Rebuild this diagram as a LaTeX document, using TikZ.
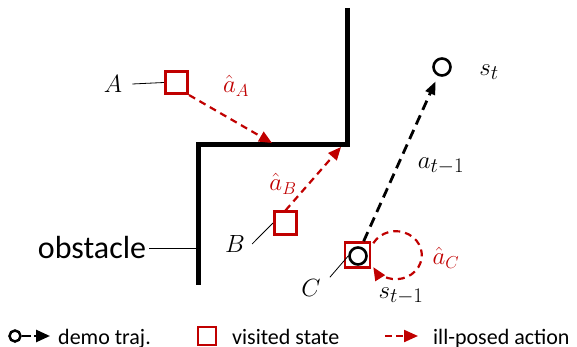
\documentclass[tikz,border=0pt]{standalone}
\usepackage{amsmath}
\usepackage{fontspec}
\setmainfont{Carlito}
\usetikzlibrary{arrows.meta, positioning, calc}
\definecolor{illred}{RGB}{192,0,0}

\begin{document}
\begin{tikzpicture}[x=1pt, y=-1pt,
        wall/.style={line width=5pt, line join=miter},
        visited/.style={rectangle, draw=illred, line width=2.6pt, minimum size=22.5pt, inner sep=0pt},
        demo/.style={circle, draw, line width=2.6pt, minimum size=17pt, inner sep=0pt},
        lab/.style={font=\fontsize{32}{36}\selectfont, inner sep=0pt},
        redlab/.style={font=\fontsize{26}{30}\selectfont, text=illred, inner sep=0pt},
        legtext/.style={font=\fontsize{22}{26}\selectfont, inner sep=0pt, anchor=base west},
        leader/.style={draw, line width=0.8pt},
        line/.style={draw, line width=2.8pt, dash pattern=on 10pt off 6pt, -{Triangle[length=13pt, width=10pt]}},
        ill/.style={draw=illred, line width=2.2pt, dash pattern=on 7pt off 5pt, -{Triangle[length=13pt, width=11pt]}}]

        \useasboundingbox (0,0) rectangle (577,347);

        % Obstacle
        \coordinate (w1) at (347,8);
        \coordinate (w2) at (347,145);
        \coordinate (w3) at (198.5,145);
        \coordinate (w4) at (198.5,285);
        \draw [wall] (w1) -- (w2) -- (w3) -- (w4);
        \node [font=\fontsize{32}{36}\selectfont, inner sep=0pt] (obs) at (92,248) {obstacle};
        \draw [leader] ([xshift=3pt]obs.east) -- (obs.east -| w3);

        % Visited states
        \node [visited] (sqA) at (176.5,82.5) {};
        \node [visited] (sqB) at (285.5,223) {};
        \node [visited, minimum size=25pt] (sqC) at (357.5,255) {};

        % Demo states
        \node [demo] (sC) at (358,256) {};
        \node [demo] (st) at (442,67) {};

        % Labels
        \node [lab] (labA) at (113,84) {$A$};
        \node [lab] (labB) at (235,244) {$B$};
        \node [lab] (labC) at (311,288) {$C$};
        \node [lab] (labst) at (489,72) {$s_t$};
        \node [lab] (act) at (441,166) {$a_{t-1}$};
        \node [lab] (labsp) at (401,296) {$s_{t-1}$};
        \node [redlab] (hatA) at (236,86) {$\hat{a}_A$};
        \node [redlab] (hatB) at (283,184) {$\hat{a}_B$};
        \node [redlab] (hatC) at (446,258) {$\hat{a}_C$};

        \draw [leader] ([xshift=10pt]labA.east) -- (sqA.west);
        \draw [leader] ([xshift=7pt]labB.east) -- (sqB.west);
        \draw [leader] ([shift={(9,-2)}]labC.north east) -- (sC.west);

        % Actions
        \coordinate (hitA) at (272,143);
        \coordinate (hitB) at (341,147);
        \path [ill] (sqA.south east) -- (hitA);
        \path [ill] (sqB.north) -- (hitB);
        \path [ill] ([shift={(2,2)}]sqC.north east) arc [start angle=-150, end angle=150, x radius=26, y radius=24];
        \path [line, shorten >=6pt] (sqC) -- (st);

        % Legend
        \node [demo, minimum size=11pt, line width=2.5pt] (legO) at (15,336) {};
        \coordinate (legOtip) at (50,336);
        \path [line, line width=2.5pt, dash pattern=on 9pt off 3pt, -{Triangle[length=14pt, width=12pt]}] (legO) -- (legOtip);
        \node [legtext] (legdemo) at (58,344) {demo traj.};
        \node [visited, minimum size=17.5pt, line width=2.2pt] (legsq) at (207,336) {};
        \node [legtext] (legvis) at (232,344) {visited state};
        \coordinate (legIs) at (385,336);
        \coordinate (legIe) at (418,336);
        \path [ill, dash pattern=on 7pt off 4pt, -{Triangle[length=14pt, width=12pt]}] (legIs) -- (legIe);
        \node [legtext] (legill) at (433,344) {ill-posed action};

    \end{tikzpicture}
\end{document}
